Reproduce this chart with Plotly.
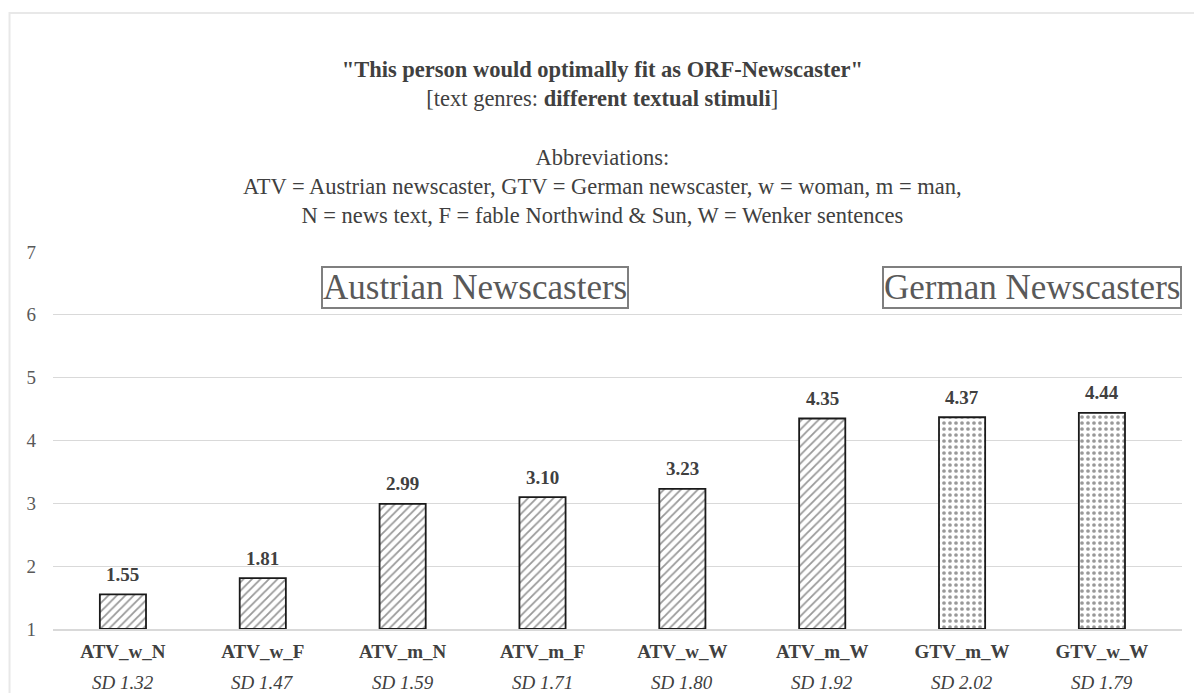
import plotly.graph_objects as go

categories = ["ATV_w_N", "ATV_w_F", "ATV_m_N", "ATV_m_F", "ATV_w_W", "ATV_m_W", "GTV_m_W", "GTV_w_W"]
means = [1.55, 1.81, 2.99, 3.10, 3.23, 4.35, 4.37, 4.44]
sds = ["1.32", "1.47", "1.59", "1.71", "1.80", "1.92", "2.02", "1.79"]
patterns = ["/", "/", "/", "/", "/", "/", ".", "."]
group_labels = ["Austrian Newscasters", "German Newscasters"]
group_pos = [2.52, 6.5]

FONT = "Liberation Serif, Times New Roman, serif"
GREY = "#404040"

fig = go.Figure()
fig.add_trace(go.Bar(
    x=categories,
    y=[m - 1 for m in means],
    base=1,
    width=0.33,
    marker=dict(
        color="white",
        line=dict(color="#1a1a1a", width=1.8),
        pattern=dict(shape=patterns, fgcolor="#333333", size=6, solidity=0.3),
    ),
    showlegend=False,
    hoverinfo="x+y",
))

title_text = ('<b>"This person would optimally fit as ORF-Newscaster"</b><br>'
              '[text genres: <b>different textual stimuli</b>]<br><br>'
              'Abbreviations:<br>'
              'ATV = Austrian newscaster, GTV = German newscaster, w = woman, m = man,<br>'
              'N = news text, F = fable Northwind &amp; Sun, W = Wenker sentences')

annotations = [dict(
    text=title_text, xref="paper", yref="paper", x=0.487, y=1.5225,
    xanchor="center", yanchor="top", showarrow=False,
    font=dict(family=FONT, size=22.5, color=GREY), align="center",
)]
for lbl, pos in zip(group_labels, group_pos):
    annotations.append(dict(
        text=lbl, x=pos, y=6.44, xref="x", yref="y", showarrow=False,
        font=dict(family=FONT, size=35, color="#595959"),
        bordercolor="#7f7f7f", borderwidth=2, borderpad=0, bgcolor="white",
    ))
for c, m in zip(categories, means):
    annotations.append(dict(
        text=f"<b>{m:.2f}</b>", x=c, y=m, xref="x", yref="y",
        yanchor="middle", yshift=20, showarrow=False,
        font=dict(family=FONT, size=19, color=GREY),
    ))
for c, s in zip(categories, sds):
    annotations.append(dict(
        text=f"<i>SD {s}</i>", x=c, y=0, xref="x", yref="paper",
        yanchor="middle", yshift=-53, showarrow=False,
        font=dict(family=FONT, size=19, color=GREY),
    ))

fig.update_layout(
    width=1194, height=693,
    margin=dict(l=53, r=12, t=252, b=64),
    paper_bgcolor="white", plot_bgcolor="white",
    font=dict(family=FONT, color="#595959"),
    annotations=annotations,
    shapes=[dict(type="rect", xref="paper", yref="paper", x0=-0.0385, x1=1.03,
                 y0=-0.3, y1=1.634, line=dict(color="#e8e8e8", width=2), layer="below")],
    xaxis=dict(
        tickmode="array", tickvals=categories,
        ticktext=[f"<b>{c}</b>" for c in categories],
        tickfont=dict(family=FONT, size=19, color=GREY),
        showline=True, linecolor="#d9d9d9", linewidth=1.5, ticks="",
        showgrid=False, automargin=False, ticklabelstandoff=4,
    ),
    yaxis=dict(
        range=[1, 7], dtick=1, tickfont=dict(family=FONT, size=19, color="#595959"),
        showgrid=True, gridcolor="#d9d9d9", gridwidth=1.2, zeroline=False,
        ticks="", ticklabelstandoff=16, automargin=False,
    ),
)

fig.write_html("out.html", config={"displayModeBar": False},
               post_script="document.body.style.margin='0px';")
